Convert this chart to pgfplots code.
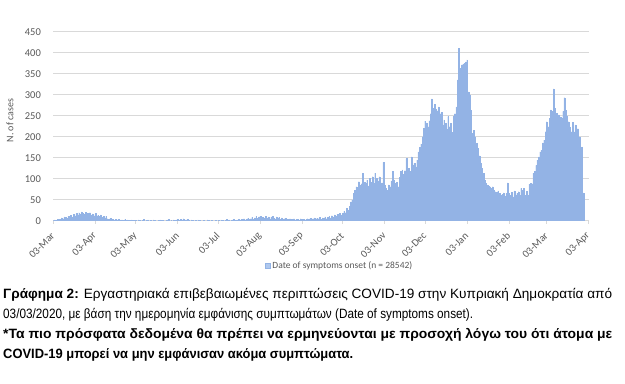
\documentclass[border=0pt]{standalone}
\usepackage{fontspec}
\setmainfont{Carlito}
\newfontfamily\captfont{Liberation Sans}
\usepackage{graphicx}
\usepackage{pgfplots}
\pgfplotsset{compat=1.18}
\definecolor{txt}{HTML}{595959}
\definecolor{gridc}{HTML}{D9D9D9}
\definecolor{barfill}{HTML}{AFC8EE}
\definecolor{baredge}{HTML}{93B3E5}
\begin{document}
\begin{tikzpicture}
\path[use as bounding box] (0,0) rectangle (625bp,384bp);
\begin{axis}[
  at={(53.4bp,163.3bp)}, anchor=south west,
  scale only axis, width=535.3bp, height=189bp,
  xmin=0, xmax=396, ymin=0, ymax=450,
  ybar, bar width=0.6,
  axis x line*=bottom, axis y line*=left,
  y axis line style={draw=none},
  x axis line style={draw=gridc, line width=0.75bp},
  xtick={0,31,61,92,122,153,184,214,245,275,306,337,365,396},
  xticklabels={03-Mar,03-Apr,03-May,03-Jun,03-Jul,03-Aug,03-Sep,03-Oct,03-Nov,03-Dec,03-Jan,03-Feb,03-Mar,03-Apr},
  ytick={0,50,...,450},
  ymajorgrids, grid style={gridc, line width=0.75bp},
  tick align=outside, major tick length=3bp,
  xtick style={draw=gridc, line width=0.75bp},
  ytick style={draw=none},
  tick label style={font=\fontsize{10.5bp}{12bp}\selectfont, text=txt},
  /pgf/number format/assume math mode=true,
  xticklabel style={yshift=-8bp, xshift=2bp, rotate=45, anchor=east},
  yticklabel style={xshift=-6bp},
  ylabel={N. of cases},
  ylabel style={at={(axis description cs:-0.081,0.53)}, anchor=center, font=\fontsize{10bp}{12bp}\selectfont, text=txt},
  legend style={at={(0.535,-0.24)}, anchor=center, draw=none, font=\fontsize{9.5bp}{11bp}\selectfont, text=txt},
]
\addplot[fill=barfill, draw=baredge, line width=0.15bp,
  legend image code/.code={\draw[fill=barfill, draw=baredge, line width=0.2bp] (0bp,-2.5bp) rectangle (5bp,2.5bp);}]
  table[x expr=\coordindex, y index=0, header=false, row sep=\\] {
1\\ 2\\ 1\\ 3\\ 4\\ 3\\ 7\\ 5\\ 9\\ 8\\
6\\ 11\\ 10\\ 13\\ 9\\ 15\\ 12\\ 17\\ 14\\ 19\\
16\\ 21\\ 18\\ 15\\ 20\\ 17\\ 13\\ 19\\ 14\\ 16\\
12\\ 17\\ 11\\ 13\\ 10\\ 14\\ 9\\ 11\\ 7\\ 10\\
5\\ 4\\ 6\\ 3\\ 4\\ 2\\ 3\\ 2\\ 3\\ 1\\
2\\ 2\\ 1\\ 3\\ 1\\ 2\\ 1\\ 1\\ 2\\ 1\\
1\\
1\\ 0\\ 2\\ 1\\ 0\\ 1\\ 3\\ 0\\ 1\\ 2\\
0\\ 1\\ 0\\ 2\\ 1\\ 0\\ 0\\ 1\\ 2\\ 0\\
1\\ 0\\ 0\\ 1\\ 3\\ 0\\ 1\\ 0\\ 2\\ 1\\
2\\ 4\\ 1\\ 3\\ 2\\ 5\\ 1\\ 2\\ 3\\ 1\\
0\\ 2\\ 1\\ 0\\ 1\\ 0\\ 2\\ 1\\ 0\\ 0\\
1\\ 0\\ 0\\ 2\\ 1\\ 0\\ 1\\ 0\\ 0\\ 1\\ 0\\
1\\ 0\\ 2\\ 1\\ 0\\ 1\\ 3\\ 1\\ 2\\ 0\\ 1\\ 3\\ 2\\ 1\\
2\\ 3\\ 1\\ 4\\ 3\\ 5\\ 2\\ 4\\ 6\\ 3\\
5\\ 8\\ 4\\ 7\\ 10\\ 6\\ 9\\ 11\\ 5\\ 8\\
7\\ 10\\ 6\\ 9\\ 4\\ 8\\ 11\\ 7\\ 5\\ 9\\
6\\ 8\\ 4\\ 7\\ 3\\ 5\\ 6\\ 4\\ 3\\ 5\\
4\\ 3\\ 5\\ 2\\ 4\\ 3\\ 2\\ 5\\ 3\\ 4\\
2\\ 3\\ 5\\ 4\\ 6\\ 3\\ 5\\ 7\\ 4\\ 6\\
5\\ 8\\ 4\\ 7\\ 6\\ 9\\ 5\\ 8\\ 10\\ 7\\
12\\ 9\\ 14\\ 11\\ 15\\ 13\\ 18\\ 14\\
17\\ 22\\ 19\\ 29\\ 26\\ 34\\ 45\\ 50\\ 65\\ 73\\
81\\ 78\\ 93\\ 85\\ 88\\ 113\\ 92\\ 89\\ 97\\ 83\\
101\\ 92\\ 105\\ 89\\ 113\\ 101\\ 95\\ 105\\ 81\\ 90\\
139\\ 85\\ 78\\ 73\\ 85\\ 81\\ 95\\ 117\\ 97\\ 89\\
92\\ 81\\ 104\\ 117\\ 121\\ 110\\ 119\\ 148\\ 121\\ 125\\
118\\ 152\\ 133\\ 137\\ 128\\ 144\\ 164\\ 175\\ 183\\ 200\\
220\\ 237\\ 233\\ 224\\ 238\\ 255\\ 290\\ 267\\ 277\\ 265\\
262\\ 271\\ 255\\ 258\\ 228\\ 240\\ 232\\ 218\\ 248\\ 224\\
232\\ 210\\ 248\\ 255\\ 271\\ 335\\ 410\\ 363\\ 371\\ 373\\
375\\ 378\\ 383\\ 307\\ 299\\ 263\\ 208\\ 215\\ 200\\ 184\\
172\\ 155\\ 137\\ 125\\ 113\\ 97\\ 89\\ 85\\ 83\\ 81\\
77\\ 81\\ 73\\ 69\\ 67\\ 71\\ 65\\ 61\\ 63\\ 66\\
58\\ 65\\ 90\\ 65\\ 61\\ 67\\ 57\\ 71\\ 61\\ 65\\
69\\ 60\\ 77\\ 73\\ 77\\ 61\\ 70\\ 61\\ 87\\ 89\\
88\\ 113\\ 117\\ 132\\ 144\\ 152\\ 164\\ 168\\ 185\\ 192\\
212\\ 236\\ 224\\ 244\\ 264\\ 260\\ 314\\ 267\\ 256\\ 252\\
252\\ 247\\ 244\\ 260\\ 293\\ 263\\ 248\\ 236\\ 224\\ 212\\
234\\ 212\\ 228\\ 176\\ 219\\ 200\\ 170\\ 176\\ 66\\
};
\addlegendentry{Date of symptoms onset (n = 28542)}
\end{axis}
\node[anchor=base west, inner sep=0pt] at (3bp,85bp) {\resizebox{609bp}{\height}{\captfont\fontsize{13.5bp}{16bp}\selectfont\textbf{Γράφημα 2:} Εργαστηριακά επιβεβαιωμένες περιπτώσεις COVID-19 στην Κυπριακή Δημοκρατία από}};
\node[anchor=base west, inner sep=0pt] at (3bp,65bp) {\resizebox{470bp}{\height}{\captfont\fontsize{13.5bp}{16bp}\selectfont 03/03/2020, με βάση την ημερομηνία εμφάνισης συμπτωμάτων (Date of symptoms onset).}};
\node[anchor=base west, inner sep=0pt] at (3bp,45bp) {\resizebox{609bp}{\height}{\captfont\fontsize{13.5bp}{16bp}\selectfont\bfseries *Τα πιο πρόσφατα δεδομένα θα πρέπει να ερμηνεύονται με προσοχή λόγω του ότι άτομα με}};
\node[anchor=base west, inner sep=0pt] at (3bp,26bp) {\resizebox{350bp}{\height}{\captfont\fontsize{13.5bp}{16bp}\selectfont\bfseries COVID-19 μπορεί να μην εμφάνισαν ακόμα συμπτώματα.}};
\end{tikzpicture}
\end{document}
